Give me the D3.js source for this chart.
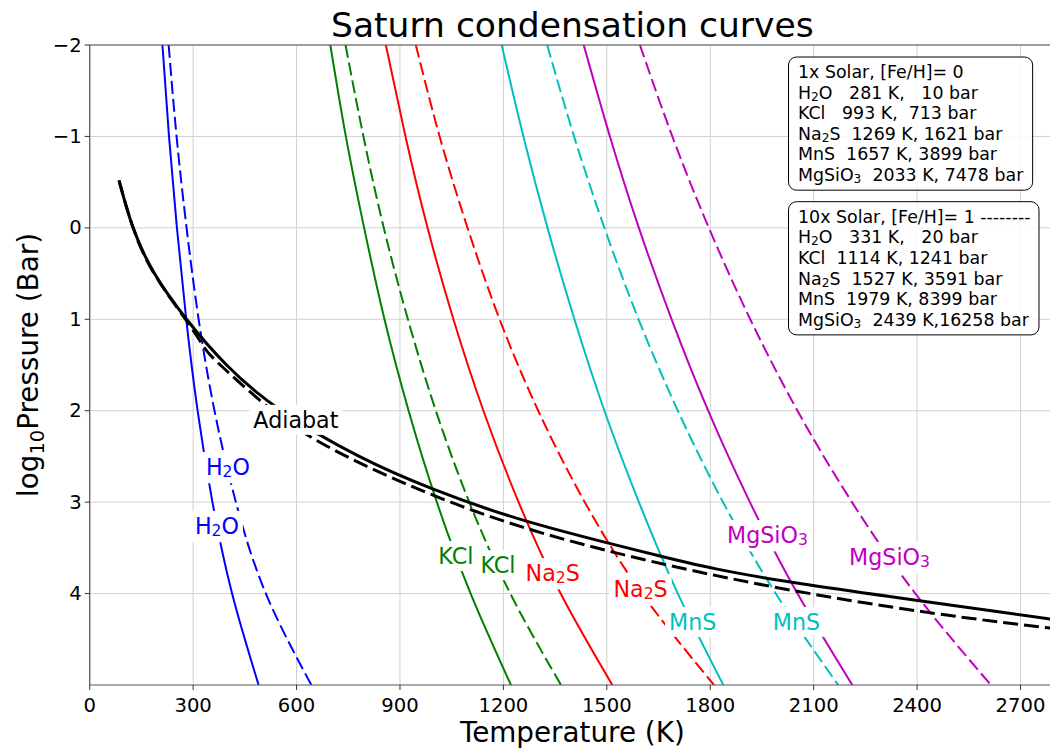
<!DOCTYPE html>
<html>
<head>
<meta charset="utf-8">
<script src="https://cdn.jsdelivr.net/npm/d3@7"></script>
<style>
  html, body { margin: 0; padding: 0; background: #fff; }
  svg { display: block; font-family: "DejaVu Sans", sans-serif; }
</style>
</head>
<body>
<svg id="chart" width="1050" height="748"></svg>
<script>
// ---------------- data ----------------
const logP = [-2, -1, 0, 1, 2, 3, 4, 5];            // log10 P (bar) sample levels
const h2o1x     = [211, 230, 253, 280, 313, 356, 413, 490];
const h2o10x    = [229, 252, 281, 316, 362, 424, 511, 643];
const kcl1x     = [698, 743, 796, 855, 925, 1007, 1105, 1222];
const kcl10x    = [742, 794, 853, 923, 1004, 1101, 1220, 1367];
const na2s1x    = [859, 916, 980, 1055, 1142, 1244, 1366, 1516];
const na2s10x   = [946, 1015, 1096, 1189, 1301, 1436, 1602, 1811];
const mns1x     = [1195, 1258, 1328, 1406, 1493, 1593, 1706, 1838];
const mns10x    = [1327, 1405, 1493, 1592, 1706, 1837, 1990, 2171];
const mgsio31x  = [1433, 1509, 1593, 1688, 1794, 1915, 2053, 2212];
const mgsio310x = [1596, 1690, 1796, 1916, 2053, 2211, 2395, 2614];

const adiabatLogP1x  = [-0.52, 0, 0.5, 1, 1.5, 2, 2.5, 2.853, 3.21, 3.591, 3.874, 4.30];
const adiabatT1x     = [85, 126, 188, 281, 397, 556, 782, 993, 1269, 1657, 2033, 2830];
const adiabatLogP10x = [-0.52, 0, 0.5, 1, 1.301, 1.5, 2, 2.5, 3.094, 3.555, 3.924, 4.211, 4.397];
const adiabatT10x    = [85, 126, 187, 278, 331, 379, 531, 745, 1114, 1527, 1979, 2439, 2830];

const species = ["H_2O", "KCl", "Na_2S", "MnS", "MgSiO_3"];
const speciesColors = ["#0000ff", "#008000", "#ff0000", "#00bfbf", "#bf00bf"];
const curves1x  = [h2o1x, kcl1x, na2s1x, mns1x, mgsio31x];
const curves10x = [h2o10x, kcl10x, na2s10x, mns10x, mgsio310x];

// inline label anchors (T, log10 P) on each curve
const labelAnchors1x  = [[369, 3.26], [1062, 3.59], [1343, 3.775], [1749, 4.31], [1966, 3.36]];
const labelAnchors10x = [[401, 2.615], [1184, 3.69], [1598, 3.95], [2050, 4.31], [2320, 3.60]];
const adiabatLabelAnchor = [598, 2.10];

const xTicks = [0, 300, 600, 900, 1200, 1500, 1800, 2100, 2400, 2700];
const yTicks = [-2, -1, 0, 1, 2, 3, 4];

const box1Lines = ["1x Solar, [Fe/H]= 0", "H_2O   281 K,   10 bar", "KCl   993 K,  713 bar",
                   "Na_2S  1269 K, 1621 bar", "MnS  1657 K, 3899 bar", "MgSiO_3  2033 K, 7478 bar"];
const box2Lines = ["10x Solar, [Fe/H]= 1 --------", "H_2O   331 K,   20 bar", "KCl  1114 K, 1241 bar",
                   "Na_2S  1527 K, 3591 bar", "MnS  1979 K, 8399 bar", "MgSiO_3  2439 K,16258 bar"];

// ---------------- layout ----------------
const svg = d3.select("#chart");
const L = 89.7, T0 = 45, R = 1055, B = 685;
const x = d3.scaleLinear().domain([0, 2800]).range([L, R]);
const y = d3.scaleLinear().domain([-2, 5]).range([T0, B]);

// helper: text with chemistry subscripts ("Na_2S")
function chem(sel, str, size) {
  const parts = str.split(/_(\d+)/);
  sel.text(null);
  const shift = size * 0.24;
  let lowered = false;
  parts.forEach((p, i) => {
    if (p === "") return;
    if (i % 2 === 1) {
      sel.append("tspan").attr("font-size", size * 0.7).attr("dy", shift).text(p);
      lowered = true;
    } else {
      const ts = sel.append("tspan").attr("font-size", size).text(p);
      if (lowered) { ts.attr("dy", -shift); lowered = false; }
    }
  });
}

svg.append("defs").append("clipPath").attr("id", "plotclip")
  .append("rect").attr("x", L).attr("y", T0).attr("width", R - L).attr("height", B - T0);

// grid
const grid = svg.append("g");
grid.selectAll("line.vx").data(xTicks).join("line")
  .attr("x1", d => x(d)).attr("x2", d => x(d)).attr("y1", T0).attr("y2", B)
  .attr("stroke", "#d0d0d0").attr("stroke-width", 1);
grid.selectAll("line.hy").data(yTicks).join("line")
  .attr("x1", L).attr("x2", R).attr("y1", d => y(d)).attr("y2", d => y(d))
  .attr("stroke", "#d0d0d0").attr("stroke-width", 1);

// curves
const plot = svg.append("g").attr("clip-path", "url(#plotclip)");
const line = d3.line().x(d => x(d[0])).y(d => y(d[1])).curve(d3.curveNatural);

species.forEach((s, i) => {
  plot.append("path").datum(curves1x[i].map((t, k) => [t, logP[k]]))
    .attr("d", line).attr("fill", "none").attr("stroke", speciesColors[i]).attr("stroke-width", 2);
  plot.append("path").datum(curves10x[i].map((t, k) => [t, logP[k]]))
    .attr("d", line).attr("fill", "none").attr("stroke", speciesColors[i]).attr("stroke-width", 2)
    .attr("stroke-dasharray", "13,5");
});

plot.append("path").datum(adiabatT1x.map((t, k) => [t, adiabatLogP1x[k]]))
  .attr("d", line).attr("fill", "none").attr("stroke", "#000").attr("stroke-width", 3);
plot.append("path").datum(adiabatT10x.map((t, k) => [t, adiabatLogP10x[k]]))
  .attr("d", line).attr("fill", "none").attr("stroke", "#000").attr("stroke-width", 3)
  .attr("stroke-dasharray", "15,6");

// inline labels
const labelSize = 22.2;
function inlineLabel(anchor, str, color) {
  const g = svg.append("g");
  const t = g.append("text").attr("x", x(anchor[0])).attr("y", y(anchor[1]))
    .attr("text-anchor", "middle").attr("dominant-baseline", "central")
    .attr("font-size", labelSize).attr("fill", color);
  chem(t, str, labelSize);
  const bb = t.node().getBBox();
  g.insert("rect", "text").attr("x", bb.x - 4).attr("y", bb.y - 2)
    .attr("width", bb.width + 8).attr("height", bb.height + 4).attr("fill", "#fff");
}
inlineLabel(adiabatLabelAnchor, "Adiabat", "#000");
species.forEach((s, i) => {
  inlineLabel(labelAnchors10x[i], s, speciesColors[i]);
  inlineLabel(labelAnchors1x[i], s, speciesColors[i]);
});

// spines
const sp = svg.append("g").attr("stroke", "#555").attr("stroke-width", 1.2);
sp.append("line").attr("x1", L).attr("x2", L).attr("y1", T0).attr("y2", B);
sp.append("line").attr("x1", L).attr("x2", R).attr("y1", T0).attr("y2", T0);
sp.append("line").attr("x1", L).attr("x2", R).attr("y1", B).attr("y2", B);

// ticks
const tickSize = 19.6;
const xt = svg.append("g");
xt.selectAll("line").data(xTicks).join("line")
  .attr("x1", d => x(d)).attr("x2", d => x(d)).attr("y1", B).attr("y2", B + 5)
  .attr("stroke", "#333").attr("stroke-width", 1);
xt.selectAll("text").data(xTicks).join("text")
  .attr("x", d => x(d)).attr("y", B + 27).attr("text-anchor", "middle")
  .attr("font-size", tickSize).attr("fill", "#000").text(d => d);
const yt = svg.append("g");
yt.selectAll("line").data(yTicks).join("line")
  .attr("x1", L - 5).attr("x2", L).attr("y1", d => y(d)).attr("y2", d => y(d))
  .attr("stroke", "#333").attr("stroke-width", 1);
yt.selectAll("text").data(yTicks).join("text")
  .attr("x", L - 8).attr("y", d => y(d)).attr("text-anchor", "end")
  .attr("dominant-baseline", "central")
  .attr("font-size", tickSize).attr("fill", "#000")
  .text(d => d < 0 ? "\u2212" + Math.abs(d) : d);

// title & axis labels
svg.append("text").attr("x", (L + R) / 2).attr("y", 37).attr("text-anchor", "middle")
  .attr("font-size", 34.5).text("Saturn condensation curves");
svg.append("text").attr("x", (L + R) / 2).attr("y", 742).attr("text-anchor", "middle")
  .attr("font-size", 27.8).text("Temperature (K)");
const yl = svg.append("text").attr("transform", `translate(38,${(T0 + B) / 2}) rotate(-90)`)
  .attr("text-anchor", "middle").attr("font-size", 27.8);
yl.append("tspan").text("log");
yl.append("tspan").attr("font-size", 19.5).attr("dy", 6).text("10");
yl.append("tspan").attr("dy", -6).text("Pressure (Bar)");

// info boxes
const boxSize = 17.4;
function infoBox(lines, x0, yFirst, spacing) {
  const g = svg.append("g");
  const tg = g.append("g");
  lines.forEach((ln, i) => {
    const t = tg.append("text").attr("x", x0).attr("y", yFirst + i * spacing)
      .attr("dominant-baseline", "central").attr("xml:space", "preserve")
      .attr("font-size", boxSize)
      .style("white-space", "pre").attr("fill", "#000");
    chem(t, ln, boxSize);
  });
  const bb = tg.node().getBBox();
  g.insert("rect", "g").attr("x", bb.x - 9.5).attr("y", bb.y - 5)
    .attr("width", bb.width + 18).attr("height", bb.height + 9)
    .attr("rx", 8).attr("ry", 8).attr("fill", "#fff").attr("fill-opacity", 0.85)
    .attr("stroke", "#000").attr("stroke-width", 1);
}
infoBox(box1Lines, 798, 72, 20.6);
infoBox(box2Lines, 798, 216.7, 20.6);
</script>
</body>
</html>
